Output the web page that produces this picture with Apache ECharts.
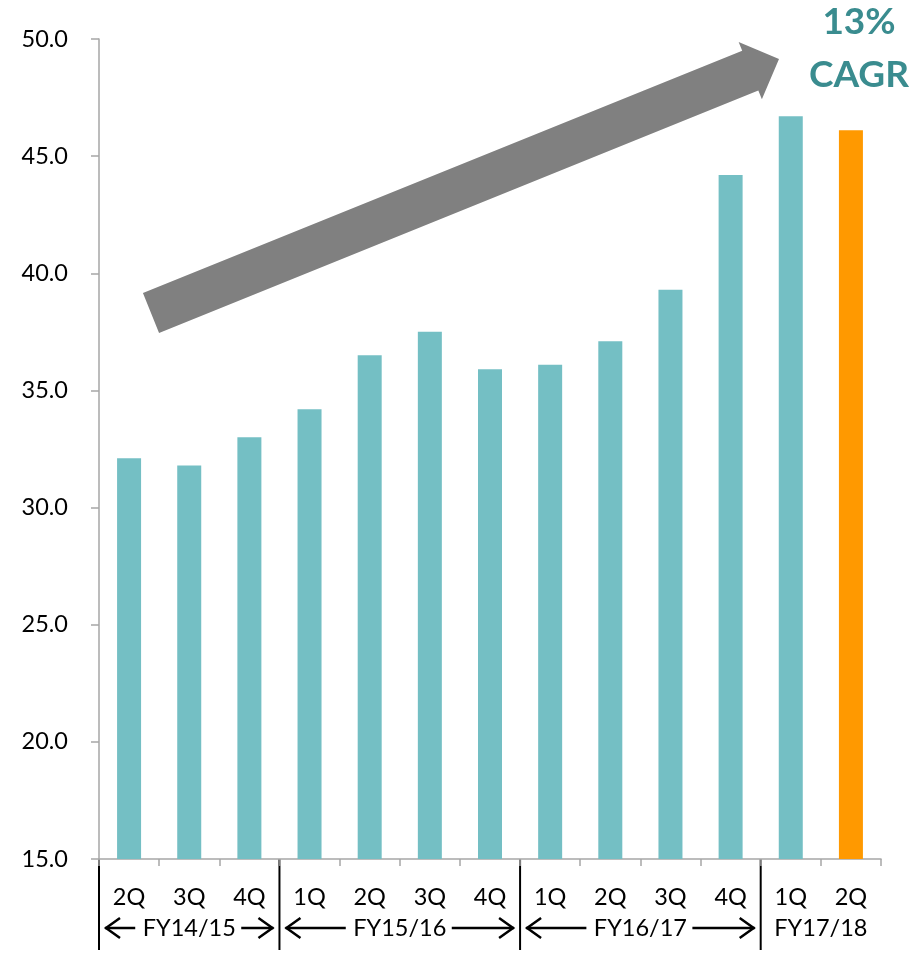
<!DOCTYPE html>
<html><head><meta charset="utf-8">
<script src="https://cdn.jsdelivr.net/npm/echarts@6/dist/echarts.min.js"></script>
<style>html,body{margin:0;padding:0;background:#fff}#c{width:924px;height:953px}</style>
</head><body><div id="c"></div>
<script>
const categories = ['2Q','3Q','4Q','1Q','2Q','3Q','4Q','1Q','2Q','3Q','4Q','1Q','2Q'];
const values = [32.1, 31.8, 33.0, 34.2, 36.5, 37.5, 35.9, 36.1, 37.1, 39.3, 44.2, 46.7, 46.1];
const highlightIndex = 12;
const yearLabels = ['FY14/15','FY15/16','FY16/17','FY17/18'];
const yearStarts = [0, 3, 7, 11];
const yearEnds = [3, 7, 11, 13];
const yearArrows = [true, true, true, false];
const yTicks = [15, 20, 25, 30, 35, 40, 45, 50];
const cagrText = ['13%', 'CAGR'];

const FONT = 'Lato, "Open Sans", sans-serif';
const chart = echarts.init(document.getElementById('c'), null, {renderer:'canvas'});
const option = {
  animation: false,
  grid: {left: 99, right: 43, top: 39, bottom: 94, containLabel: false},
  xAxis: {
    type: 'category', data: categories,
    axisLine: {lineStyle: {color: '#a6a6a6', width: 1.5}},
    axisTick: {show: true, length: 7, lineStyle: {color: '#a6a6a6', width: 1.5}},
    axisLabel: {color: '#000', fontSize: 23.5, fontFamily: FONT, margin: 26, interval: 0}
  },
  yAxis: {
    type: 'value', min: yTicks[0], max: yTicks[yTicks.length-1], interval: 5,
    axisLine: {show: true, lineStyle: {color: '#a6a6a6', width: 1.5}},
    axisTick: {show: true, length: 8, lineStyle: {color: '#a6a6a6', width: 1.5}},
    splitLine: {show: false},
    axisLabel: {color: '#000', fontSize: 23.5, fontFamily: FONT, margin: 31, formatter: v => v.toFixed(1)}
  },
  series: [{
    type: 'bar', barWidth: 24,
    data: values.map((v, i) => ({value: v, itemStyle: {color: i === highlightIndex ? '#FF9900' : '#74BFC4'}}))
  }]
};
chart.setOption(option);

function addGraphics() {
  const g = [];
  const x0 = chart.convertToPixel({xAxisIndex: 0}, 0);
  const x1 = chart.convertToPixel({xAxisIndex: 0}, 1);
  const step = x1 - x0;
  const boundary = k => x0 - step / 2 + k * step;
  const yBase = chart.convertToPixel({yAxisIndex: 0}, yTicks[0]);
  const sepTop = yBase, sepBot = 950, yearY = 928;
  yearStarts.forEach((s) => {
    const x = boundary(s);
    g.push({type: 'line', shape: {x1: x, y1: sepTop, x2: x, y2: sepBot}, style: {stroke: '#000', lineWidth: 2}});
  });
  yearLabels.forEach((lab, i) => {
    const a = boundary(yearStarts[i]), b = boundary(yearEnds[i]);
    const cx = (a + b) / 2;
    g.push({type: 'text', x: cx, y: yearY, style: {text: lab, fill: '#000', font: '23.5px ' + FONT, align: 'center', verticalAlign: 'middle'}});
    if (yearArrows[i]) {
      const lx1 = a + 6, lx2 = cx - 54;
      const rx1 = cx + 52, rx2 = b - 6;
      const st = {stroke: '#000', lineWidth: 2.5, fill: null};
      g.push({type: 'line', shape: {x1: lx1, y1: yearY, x2: lx2, y2: yearY}, style: st});
      g.push({type: 'polyline', shape: {points: [[lx1 + 15, yearY - 10], [lx1 + 1, yearY], [lx1 + 15, yearY + 10]]}, style: st});
      g.push({type: 'line', shape: {x1: rx1, y1: yearY, x2: rx2, y2: yearY}, style: st});
      g.push({type: 'polyline', shape: {points: [[rx2 - 15, yearY - 10], [rx2 - 1, yearY], [rx2 - 15, yearY + 10]]}, style: st});
    }
  });
  const T = [151, 313], P = [779, 59];
  const dx = P[0] - T[0], dy = P[1] - T[1], L = Math.hypot(dx, dy);
  const u = [dx / L, dy / L], n = [-u[1], u[0]];
  const hw = 21.5, hh = 31, hl = 31;
  const B = [P[0] - hl * u[0], P[1] - hl * u[1]];
  const pt = (c, s) => [c[0] + s * n[0], c[1] + s * n[1]];
  g.push({type: 'polygon', shape: {points: [pt(T, -hw), pt(B, -hw), pt(B, -hh), P, pt(B, hh), pt(B, hw), pt(T, hw)]}, style: {fill: '#808080'}});
  g.push({type: 'text', x: 859, y: 22, style: {text: cagrText[0], fill: '#3A8C8F', font: 'bold 37px ' + FONT, align: 'center', verticalAlign: 'middle'}});
  g.push({type: 'text', x: 859, y: 75, style: {text: cagrText[1], fill: '#3A8C8F', font: 'bold 37px ' + FONT, align: 'center', verticalAlign: 'middle'}});
  chart.setOption({graphic: g});
}
addGraphics();
</script></body></html>
